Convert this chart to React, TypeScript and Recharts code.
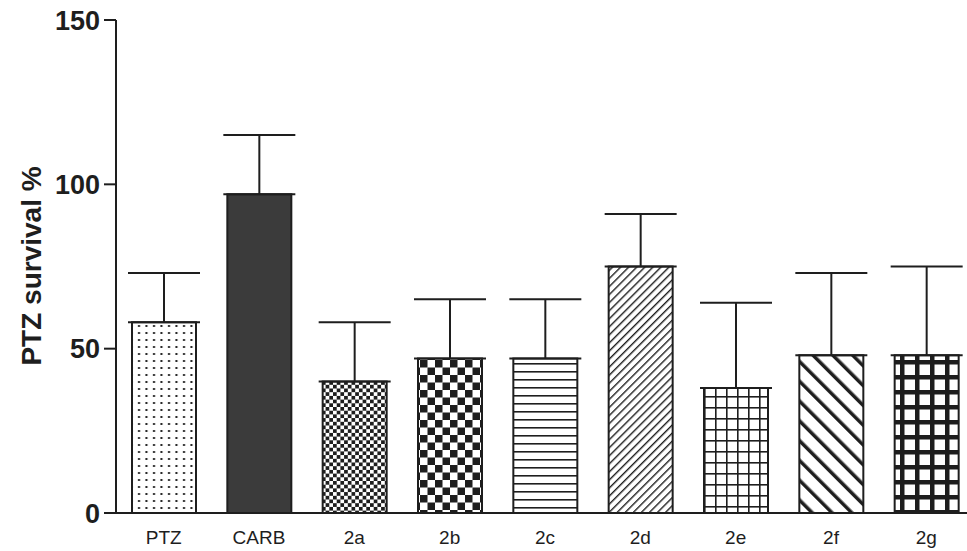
import { BarChart, Bar, XAxis, YAxis, Cell, ErrorBar } from "recharts";

// survival per group, mean and upper SEM
const groups = ["PTZ", "CARB", "2a", "2b", "2c", "2d", "2e", "2f", "2g"];
const survival = [58, 97, 40, 47, 47, 75, 38, 48, 48];
const sem = [15, 18, 18, 18, 18, 16, 26, 25, 27];
const yTicks = [0, 50, 100, 150];

const fills = [
  "url(#dots)",
  "#3b3b3b",
  "url(#checkSmall)",
  "url(#checkLarge)",
  "url(#hLines)",
  "url(#diagUp)",
  "url(#gridFine)",
  "url(#diagDown)",
  "url(#gridThick)",
];

const data = groups.map((name, i) => ({
  name,
  value: survival[i],
  err: [0, sem[i]],
}));

const INK = "#1e1e1e";
const FONT = "Arial, 'Liberation Sans', Helvetica, sans-serif";

const YLabel = () => (
  <text
    x={31}
    y={266}
    transform="rotate(-90, 31, 266)"
    textAnchor="middle"
    dominantBaseline="central"
    fontFamily={FONT}
    fontWeight="bold"
    fontSize={28}
    fill={INK}
  >
    PTZ survival %
  </text>
);

export default function App() {
  return (
    <div
      style={{
        position: "absolute",
        left: 0,
        top: 0,
        width: 967,
        height: 551,
        overflow: "hidden",
        background: "#fff",
      }}
    >
      <BarChart
        width={980}
        height={551}
        data={data}
        margin={{ top: 20, right: 6, left: 0, bottom: 8 }}
      >
        <defs>
          <pattern id="dots" width="7.5" height="7" patternUnits="userSpaceOnUse">
            <rect width="7.5" height="7" fill="#fff" />
            <rect x="3" y="3" width="2" height="2" fill={INK} />
          </pattern>
          <pattern id="checkSmall" width="7.4" height="7.4" patternUnits="userSpaceOnUse">
            <rect width="7.4" height="7.4" fill="#fff" />
            <rect width="3.7" height="3.7" fill={INK} />
            <rect x="3.7" y="3.7" width="3.7" height="3.7" fill={INK} />
          </pattern>
          <pattern id="checkLarge" width="15" height="15" patternUnits="userSpaceOnUse">
            <rect width="15" height="15" fill="#fff" />
            <rect width="7.5" height="7.5" fill={INK} />
            <rect x="7.5" y="7.5" width="7.5" height="7.5" fill={INK} />
          </pattern>
          <pattern id="hLines" width="8" height="8" patternUnits="userSpaceOnUse">
            <rect width="8" height="8" fill="#fff" />
            <rect y="3" width="8" height="1.6" fill={INK} />
          </pattern>
          <pattern
            id="diagUp"
            width="5.7"
            height="10"
            patternUnits="userSpaceOnUse"
            patternTransform="rotate(45)"
          >
            <rect width="5.7" height="10" fill="#fff" />
            <rect width="1.4" height="10" fill={INK} />
          </pattern>
          <pattern id="gridFine" width="11" height="11" patternUnits="userSpaceOnUse">
            <rect width="11" height="11" fill="#fff" />
            <rect width="11" height="1.6" fill={INK} />
            <rect width="1.6" height="11" fill={INK} />
          </pattern>
          <pattern
            id="diagDown"
            width="14"
            height="10"
            patternUnits="userSpaceOnUse"
            patternTransform="rotate(-45)"
          >
            <rect width="14" height="10" fill="#fff" />
            <rect width="3.5" height="10" fill={INK} />
          </pattern>
          <pattern id="gridThick" width="15" height="15" patternUnits="userSpaceOnUse">
            <rect width="15" height="15" fill="#fff" />
            <rect width="15" height="4.5" fill={INK} />
            <rect width="4.5" height="15" fill={INK} />
          </pattern>
        </defs>
        <XAxis
          dataKey="name"
          height={30}
          tickLine={false}
          tickSize={0}
          tickMargin={18}
          axisLine={{ stroke: INK, strokeWidth: 2 }}
          tick={{ fill: INK, fontSize: 19, fontFamily: FONT }}
          interval={0}
        />
        <YAxis
          width={116}
          domain={[0, 150]}
          ticks={yTicks}
          interval={0}
          tickSize={12}
          tickMargin={4}
          axisLine={{ stroke: INK, strokeWidth: 2 }}
          tickLine={{ stroke: INK, strokeWidth: 2 }}
          tick={{ fill: INK, fontSize: 27, fontWeight: "bold", fontFamily: FONT }}
          label={<YLabel />}
        />
        <Bar
          dataKey="value"
          barSize={64}
          stroke={INK}
          strokeWidth={2}
          isAnimationActive={false}
        >
          {data.map((d, i) => (
            <Cell key={d.name} fill={fills[i]} />
          ))}
          <ErrorBar dataKey="err" width={36} stroke={INK} strokeWidth={2} />
        </Bar>
      </BarChart>
    </div>
  );
}
